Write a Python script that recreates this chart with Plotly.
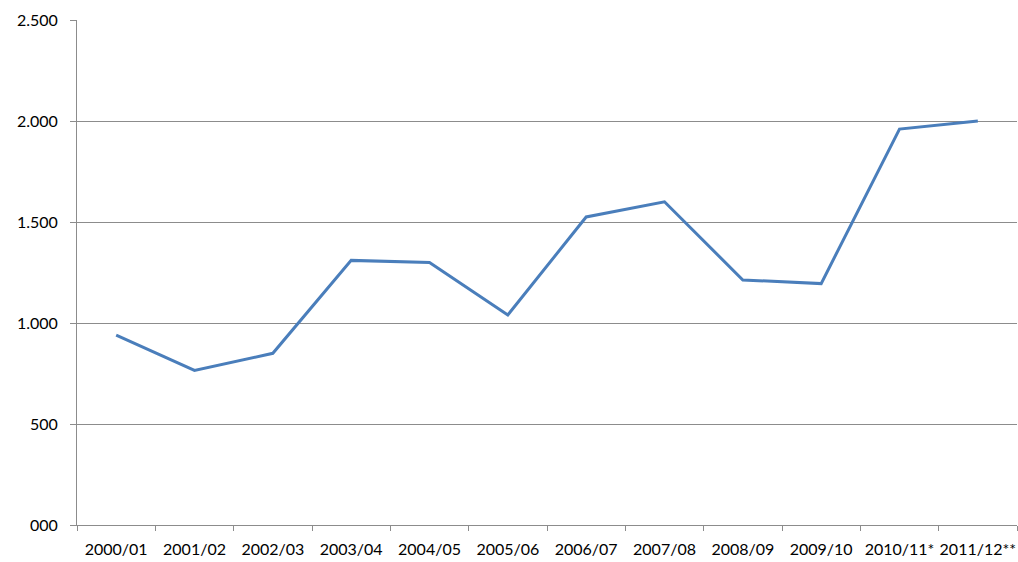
import plotly.graph_objects as go

categories = ["2000/01", "2001/02", "2002/03", "2003/04", "2004/05", "2005/06",
              "2006/07", "2007/08", "2008/09", "2009/10", "2010/11*", "2011/12**"]
values = [940, 765, 850, 1310, 1300, 1040, 1525, 1600, 1213, 1195, 1960, 2000]
y_tickvals = [0, 500, 1000, 1500, 2000, 2500]
y_ticktext = ["000", "500", "1.000", "1.500", "2.000", "2.500"]

fig = go.Figure()
fig.add_trace(go.Scatter(
    x=categories, y=values, mode="lines",
    line=dict(color="#4a7ebb", width=3),
    showlegend=False, hoverinfo="x+y",
))

axis_color = "#8c8c8c"
fig.update_layout(
    width=1018, height=562,
    margin=dict(l=77, r=1, t=20, b=37),
    paper_bgcolor="white", plot_bgcolor="white",
    font=dict(family="Lato, Open Sans, sans-serif", size=16, color="#000000"),
    xaxis=dict(
        type="category", tickson="boundaries",
        showline=True, linecolor=axis_color, linewidth=1,
        ticks="outside", ticklen=5, tickcolor=axis_color,
        showgrid=False, zeroline=False, automargin=False,
        tickangle=0, tickfont=dict(size=16),
        ticklabelstandoff=10,
        range=[-0.5, 11.5],
    ),
    yaxis=dict(
        range=[0, 2500], tickvals=y_tickvals, ticktext=y_ticktext,
        showline=True, linecolor=axis_color, linewidth=1,
        ticks="outside", ticklen=6, tickcolor=axis_color,
        showgrid=True, gridcolor=axis_color, gridwidth=1,
        zeroline=False, automargin=False, tickfont=dict(size=16),
        ticklabelstandoff=9,
    ),
)

fig.write_html("out.html")
